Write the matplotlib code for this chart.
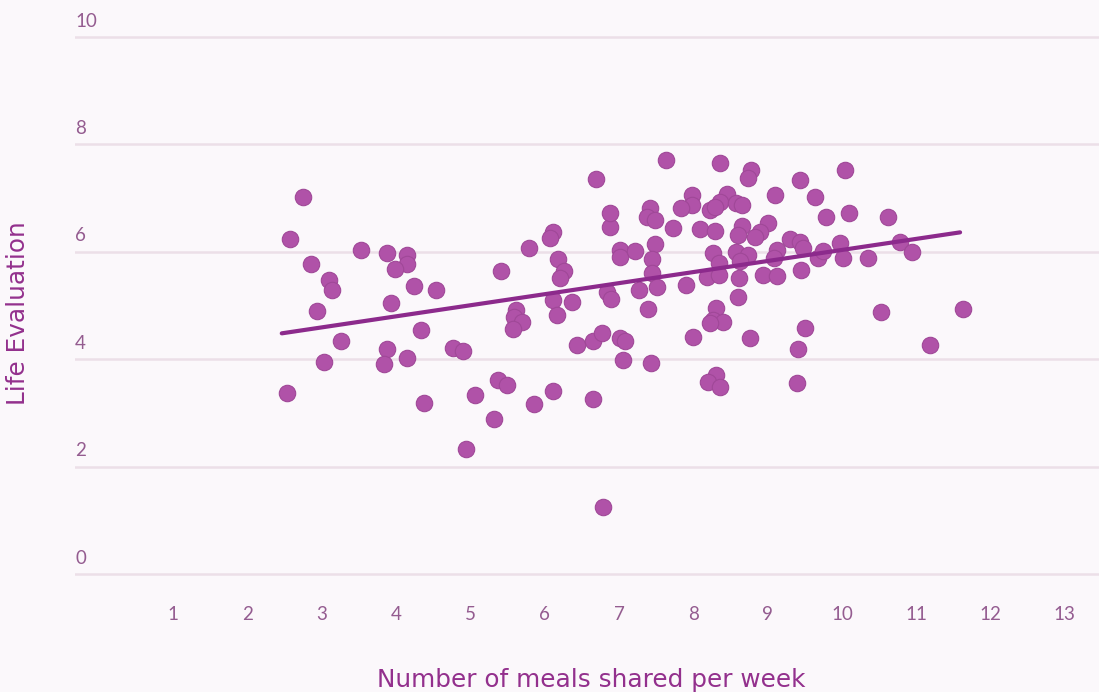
import matplotlib
matplotlib.use("Agg")
import matplotlib.pyplot as plt
import numpy as np

# meals shared per week vs life evaluation
meals = [2.75, 2.57, 3.53, 3.87, 4.15, 4.15, 3.99, 2.86, 3.10, 3.13,
         4.24, 4.53, 3.93, 2.93, 4.33, 3.26, 3.88, 3.84, 4.15, 3.03,
         4.77, 4.90, 2.53, 4.38, 6.88, 6.88, 6.11, 6.07, 5.79, 7.01,
         7.01, 7.21, 6.18, 6.26, 6.20, 5.41, 7.27, 6.84, 6.89, 6.11,
         6.37, 6.16, 5.61, 5.58, 5.69, 5.57, 6.43, 6.65, 6.77, 7.01,
         7.08, 7.05, 5.37, 5.49, 5.06, 6.11, 5.85, 6.65, 5.31, 4.94,
         7.63, 8.36, 8.78, 8.74, 9.43, 9.10, 9.64, 7.98, 7.98, 7.83,
         8.45, 8.36, 8.58, 8.65, 8.22, 8.29, 7.41, 7.37, 7.48, 7.72,
         8.09, 8.29, 8.65, 8.60, 9.01, 8.90, 8.83, 9.30, 9.43, 9.47,
         7.48, 7.45, 8.27, 8.34, 8.58, 8.74, 8.63, 9.12, 9.08, 9.68,
         7.45, 7.51, 7.90, 8.18, 8.34, 8.61, 8.94, 9.12, 9.45, 8.60,
         7.39, 8.31, 8.27, 8.40, 8.22, 9.50, 8.00, 8.76, 9.41, 7.43,
         8.31, 8.20, 8.36, 9.39, 6.79, 6.69, 10.04, 9.78, 10.10, 10.62,
         9.75, 9.97, 10.01, 10.35, 10.78, 10.94, 10.53, 11.63, 11.18]
life_eval = [7.03, 6.24, 6.03, 5.97, 5.94, 5.77, 5.68, 5.77, 5.47, 5.28,
             5.36, 5.29, 5.05, 4.90, 4.54, 4.33, 4.19, 3.91, 4.02, 3.95,
             4.20, 4.16, 3.38, 3.18, 6.47, 6.72, 6.37, 6.25, 6.07, 6.03,
             5.90, 6.02, 5.86, 5.65, 5.51, 5.65, 5.29, 5.26, 5.12, 5.10,
             5.07, 4.82, 4.92, 4.79, 4.70, 4.56, 4.26, 4.33, 4.48, 4.39,
             4.33, 3.99, 3.61, 3.52, 3.33, 3.41, 3.17, 3.26, 2.89, 2.33,
             7.71, 7.65, 7.52, 7.37, 7.34, 7.06, 7.03, 7.06, 6.88, 6.81,
             7.07, 6.93, 6.90, 6.87, 6.78, 6.84, 6.82, 6.65, 6.59, 6.45,
             6.42, 6.39, 6.49, 6.31, 6.53, 6.37, 6.28, 6.24, 6.19, 6.07,
             6.14, 5.87, 5.97, 5.79, 6.00, 5.94, 5.82, 6.03, 5.88, 5.88,
             5.60, 5.35, 5.38, 5.54, 5.57, 5.51, 5.57, 5.55, 5.66, 5.15,
             4.93, 4.95, 4.73, 4.70, 4.67, 4.58, 4.42, 4.40, 4.19, 3.93,
             3.71, 3.58, 3.49, 3.56, 1.25, 7.35, 7.52, 6.65, 6.72, 6.65,
             6.01, 6.16, 5.88, 5.88, 6.19, 5.99, 4.88, 4.93, 4.26]

# trend line as drawn in the original
trend_slope = 0.206
trend_intercept = 3.975

y_ticks = [0, 2, 4, 6, 8, 10]
x_ticks = list(range(1, 14))

dot_color = "#b052a8"
line_color = "#8c2a8c"
text_color = "#945c90"
label_color = "#93308d"
grid_color = "#ecdfe8"
bg = "#fbf8fb"

plt.rcParams["font.family"] = ["Lato", "DejaVu Sans"]

fig = plt.figure(figsize=(10.99, 6.92), dpi=100, facecolor=bg)
ax = fig.add_axes([75 / 1099, (692 - 580) / 692, (1099 - 75) / 1099, 580 / 692])
ax.set_facecolor(bg)

ax.set_xlim(-0.323, 13.46)
ax.set_ylim(-0.112, 10.69)

for v in y_ticks:
    ax.axhline(v, color=grid_color, lw=1.8, zorder=0)
    ax.annotate(str(v), xy=(0, v), xycoords=ax.get_yaxis_transform(),
                xytext=(0, 7.5), textcoords="offset points",
                ha="left", va="baseline", fontsize=13.5, color=text_color)

ax.scatter(meals, life_eval, s=140, color=dot_color, edgecolors="#a04898",
           linewidths=0.8, zorder=2)

xs = np.array([min(meals) - 0.07, max(meals) - 0.04])
ax.plot(xs, trend_intercept + trend_slope * xs, color=line_color, lw=3,
        solid_capstyle="round", zorder=3)

ax.set_xticks(x_ticks)
ax.set_yticks([])
ax.tick_params(axis="x", length=0, pad=19, labelsize=13.5, labelcolor=text_color)
for s in ax.spines.values():
    s.set_visible(False)

fig.text(591 / 1099, 1 - 680 / 692, "Number of meals shared per week",
         ha="center", va="center", fontsize=17.8, color=label_color,
         family="DejaVu Sans")
fig.text(18 / 1099, 1 - 313 / 692, "Life Evaluation", rotation=90,
         ha="center", va="center", fontsize=17.8, color=label_color,
         family="DejaVu Sans")

fig.savefig("out.png", dpi=100, facecolor=bg)
